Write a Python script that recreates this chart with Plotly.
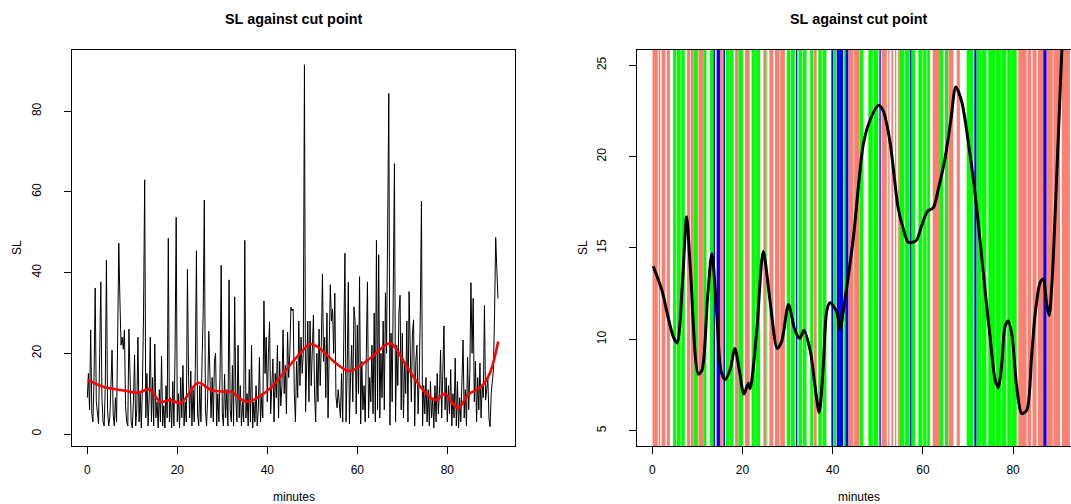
import plotly.graph_objects as go

W, H = 1071, 504
FONT = "Liberation Sans, Arial, Helvetica, sans-serif"

# SL at each cut point, sampled every quarter minute
sample_step = 0.25
sl_values = [
    9, 15, 6, 25.8, 5, 3, 14, 36.2, 8, 4, 2.5, 20, 37.7, 9, 3, 2, 12, 43.1, 6, 2,
    4, 12, 20.8, 5, 2, 9, 3, 24, 47.3, 33, 22, 24, 21, 25.8, 7, 3, 2, 26, 11.7, 3,
    1.5, 8, 19.6, 2, 6, 24, 3, 10, 1.5, 12, 30, 63, 4, 15, 2, 9, 24, 3, 14, 2,
    22.3, 4, 8, 1.5, 11, 3, 19.3, 2, 7, 1.5, 12, 4, 48.5, 3, 9, 1.5, 13, 2, 20, 53.7,
    3, 10, 1.5, 14, 4, 17, 2, 8, 3, 40.8, 14, 4, 15.6, 2, 11, 3, 16, 45.4, 5, 2,
    12, 3, 18, 30, 58, 6, 2, 9, 25.5, 12, 4, 14, 3, 18, 20, 2, 10, 3, 15, 41.8,
    5, 2, 14.8, 4, 11, 2, 38.2, 6, 3, 17, 2, 34, 9, 3, 22, 4, 12, 2, 8, 3,
    48, 4, 10, 2, 16, 3, 22, 1.5, 8, 3, 12, 2, 6, 19, 3, 10, 4, 33, 15, 24,
    8, 20, 27.8, 5, 12, 18.6, 3, 15, 9, 22, 4, 18, 7, 12, 25.8, 10, 17, 5, 25.3, 14,
    20, 31.4, 30.5, 31, 10, 3, 18, 9, 28, 12, 24, 15, 20, 91.5, 5.5, 20, 28, 8, 28, 12,
    25, 29.5, 10, 3, 20, 8, 26, 12, 22, 39.6, 18, 24, 9, 30, 4, 20, 37, 28, 31, 20,
    34.9, 9.4, 6.5, 11, 7, 4, 15, 3, 24, 44.8, 3, 16, 37.6, 2.5, 14, 22, 8, 31.5, 28, 5,
    27, 10, 39, 2.5, 18, 6, 12, 3, 20, 37.7, 4, 14, 8, 22, 5, 30, 3, 48, 6, 44.4,
    4, 20, 9, 28, 6, 35, 20, 45, 84.4, 2.2, 25, 8, 40, 67, 3, 22, 12, 30, 34.4, 6,
    25, 4, 18, 10, 28, 3, 35.3, 15, 8, 25, 28.3, 2, 18, 22, 5, 14, 30, 57.7, 2, 12,
    5, 14, 3, 11, 2, 13, 4, 9, 1.5, 12, 3, 15, 5, 10, 20.8, 4, 18, 26.8, 6, 14,
    3, 12, 5, 16, 2, 10, 4, 18.8, 2, 13, 1.5, 9, 3, 15, 23.3, 4, 11, 2, 19, 6,
    15, 37.5, 20, 33.6, 8, 18, 3, 14, 6, 17.6, 4, 12, 9, 31.8, 8.4, 11, 14, 4, 1.8, 10,
    13.4, 16, 30, 48.7, 41, 33.6,
]
minutes = [i * sample_step for i in range(len(sl_values))]

# wide-span smooth of SL (left panel)
smooth_min = [0.1, 3.5, 8.5, 11.2, 13.8, 16.2, 18.4, 20.8, 24.6, 27.5, 30.2, 32.0,
              33.9, 35.8, 38.4, 41.1, 44.9, 47.3, 49.5, 51.2, 55.5, 58.3, 63.0,
              67.3, 70.9, 74.3, 77.3, 79.5, 81.3, 82.4, 84.8, 87.5, 89.5, 91.3]
smooth_sl = [13.4, 11.7, 10.7, 10.2, 11.1, 8.0, 8.4, 7.7, 12.7, 10.9, 10.5, 10.5,
             8.8, 8.0, 9.4, 11.8, 16.9, 20.0, 22.3, 21.6, 17.3, 15.6, 18.9,
             22.5, 16.9, 11.3, 8.4, 10.0, 7.4, 6.4, 9.9, 11.7, 15.2, 22.9]

# narrow-span smooth of SL (right panel)
fine_min = [0.2, 2.1, 3.5, 4.7, 5.5, 6.7, 7.6, 8.5, 10.2, 11.0, 12.2, 13.2, 14.3,
            15.2, 16.1, 17.2, 18.3, 19.3, 20.3, 21.3, 21.7, 23.1, 24.6, 26.1,
            27.7, 28.7, 30.2, 31.6, 32.7, 33.6, 35.0, 36.1, 37.0, 37.9, 38.7,
            39.4, 40.9, 41.6, 42.7, 44.6, 46.8, 48.3, 50.1, 51.2, 52.7, 54.5,
            55.7, 56.8, 58.5, 59.7, 61.0, 62.3, 63.4, 64.9, 66.2, 67.3, 68.6,
            70.4, 71.9, 73.4, 74.9, 76.0, 76.7, 77.5, 78.2, 78.9, 79.7, 80.8,
            81.9, 83.0, 84.1, 84.9, 86.0, 86.7, 87.4, 88.0, 88.6, 89.7, 90.8, 91.3]
fine_sl = [14.0, 12.7, 11.2, 10.1, 9.8, 13.2, 16.7, 13.6, 8.1, 8.3, 12.1, 14.7, 11.4,
           8.3, 7.8, 8.3, 9.5, 8.3, 7.0, 7.6, 7.3, 10.3, 14.8, 12.1,
           9.5, 9.9, 11.9, 10.5, 10.05, 10.5, 9.4, 7.4, 6.0, 8.5, 11.6,
           12.0, 11.5, 10.55, 12.15, 15.6, 20.7, 22.0, 22.8, 22.5, 20.8, 17.2,
           16.0, 15.3, 15.4, 16.2, 17.0, 17.2, 18.2, 19.9, 22.0, 23.8, 23.0,
           20.2, 17.25, 13.6, 10.1, 7.8, 7.35, 8.7, 10.7, 11.0, 10.3, 7.4,
           5.95, 6.1, 9.05, 11.4, 13.1, 13.3, 12.0, 11.3, 13.0, 19.1, 25.8, 28.5]

# cut-point bands: start minute, end minute, group
band_start = [0.05, 1.4, 2.05, 3.2, 4.6, 5.45, 6.45, 7.7, 8.55, 9.1, 10.2, 11.3,
              12.8, 13.55, 14.25, 15.0, 15.75, 16.3, 17.15, 18.35, 19.1, 20.55,
              22.0, 22.95, 24.6, 25.0, 25.95, 27.2, 28.35, 29.8, 30.75, 31.85,
              32.4, 33.35, 35.0, 35.85, 36.8, 37.75, 39.7, 40.1, 40.9, 41.6,
              42.4, 42.8, 43.5, 44.75, 46.05, 47.9, 49.05, 50.35, 50.85, 52.3,
              53.0, 53.8, 54.5, 54.9, 56.05, 57.15, 57.5, 58.99, 60.05, 60.95,
              62.17, 63.8, 64.9, 65.65, 67.5, 69.7, 71.4, 71.9, 73.05, 74.5,
              76.2, 77.45, 78.7, 79.75, 81.16, 83.2, 84.3, 85.5, 86.7, 87.45,
              88.95, 90.8]
band_end = [1.2, 1.75, 2.9, 3.9, 5.3, 6.3, 7.2, 8.4, 9.1, 10.1, 11.3, 12.0,
            13.5, 13.9, 15.0, 15.6, 16.1, 17.0, 18.0, 19.1, 20.1, 21.6,
            22.8, 23.9, 25.0, 25.35, 26.85, 28.2, 29.4, 30.6, 31.6, 32.15,
            33.2, 34.2, 35.7, 36.45, 37.6, 38.6, 40.1, 40.8, 41.6, 42.3,
            42.7, 43.5, 44.6, 46.0, 46.8, 48.9, 50.1, 50.65, 52.0, 52.6,
            53.4, 54.1, 54.9, 55.9, 57.1, 57.5, 58.25, 59.9, 60.8, 61.57,
            63.8, 64.5, 65.6, 66.75, 68.2, 71.2, 71.9, 72.9, 74.1, 76.0,
            77.3, 78.5, 79.6, 80.8, 83.0, 84.0, 85.2, 86.7, 87.45, 88.8,
            90.4, 92.6]
band_group = ["S", "S", "S", "S", "G", "G", "G", "S", "S", "G", "S", "G",
              "G", "B", "B", "S", "B", "G", "G", "S", "G", "S",
              "G", "G", "S", "G", "S", "S", "S", "G", "G", "B",
              "G", "G", "G", "S", "G", "G", "B", "G", "B", "B",
              "G", "B", "S", "S", "G", "G", "G", "B", "S", "S",
              "S", "S", "S", "G", "G", "B", "G", "G", "G", "G",
              "S", "G", "G", "S", "S", "G", "B", "G", "G", "G",
              "G", "G", "G", "G", "S", "S", "S", "S", "B", "S",
              "S", "S"]
group_colors = {"S": "#FA8072", "G": "#00FF00", "B": "#0000FF"}

x_ticks = [0, 20, 40, 60, 80]
left_y_ticks = [0, 20, 40, 60, 80]
right_y_ticks = [5, 10, 15, 20, 25]

fig = go.Figure()

fig.add_trace(go.Scatter(x=minutes, y=sl_values, mode="lines",
                         line=dict(color="black", width=1),
                         xaxis="x", yaxis="y", showlegend=False))
fig.add_trace(go.Scatter(x=smooth_min, y=smooth_sl, mode="lines",
                         line=dict(color="#FF0000", width=2.6, shape="spline",
                                   smoothing=0.9),
                         xaxis="x", yaxis="y", showlegend=False))
fig.add_trace(go.Scatter(x=fine_min, y=fine_sl, mode="lines",
                         line=dict(color="black", width=3, shape="spline",
                                   smoothing=0.8),
                         xaxis="x2", yaxis="y2", showlegend=False))

shapes = []
for s, e, g in zip(band_start, band_end, band_group):
    shapes.append(dict(type="rect", xref="x2", yref="y2 domain",
                       x0=s, x1=e, y0=0, y1=1, fillcolor=group_colors[g],
                       line=dict(width=0), layer="below"))

y_dom = [(H - 446) / H, (H - 50) / H]
axis_common = dict(showgrid=False, zeroline=False, ticks="outside", ticklen=7,
                   tickwidth=1, tickcolor="black", showline=True,
                   linecolor="black", linewidth=1,
                   tickfont=dict(family=FONT, size=12, color="black"))

fig.update_layout(
    width=W, height=H, autosize=False,
    margin=dict(l=0, r=0, t=0, b=0),
    paper_bgcolor="white", plot_bgcolor="white",
    shapes=shapes,
    xaxis=dict(domain=[72 / W, 515 / W], range=[-3.4, 95.04], anchor="y",
               tickvals=x_ticks, mirror=True, ticklabelstandoff=6,
               **axis_common),
    yaxis=dict(domain=y_dom, range=[-2.97, 95.17], anchor="x",
               tickvals=left_y_ticks, tickangle=-90, mirror=True,
               ticklabelstandoff=18, **axis_common),
    xaxis2=dict(domain=[637 / W, 1.0], range=[-3.4, 92.84], anchor="y2",
                tickvals=x_ticks, mirror=True, ticklabelstandoff=6,
                **axis_common),
    yaxis2=dict(domain=y_dom, range=[4.16, 25.83], anchor="x2",
                tickvals=right_y_ticks, tickangle=-90, mirror=False,
                ticklabelstandoff=18, **axis_common),
)

def label(text, px, py, size=12, bold=False, angle=0):
    fig.add_annotation(text=f"<b>{text}</b>" if bold else text,
                       xref="paper", yref="paper", x=px / W, y=1 - py / H,
                       xanchor="center", yanchor="middle", showarrow=False,
                       textangle=angle,
                       font=dict(family=FONT, size=size, color="black"))

for cx in (293.5, 858.5):
    label("SL against cut point", cx, 19, size=14.4, bold=True)
    label("minutes", cx, 497)
label("SL", 17, 248, angle=-90)
label("SL", 583, 248, angle=-90)

fig.write_html("out.html")
